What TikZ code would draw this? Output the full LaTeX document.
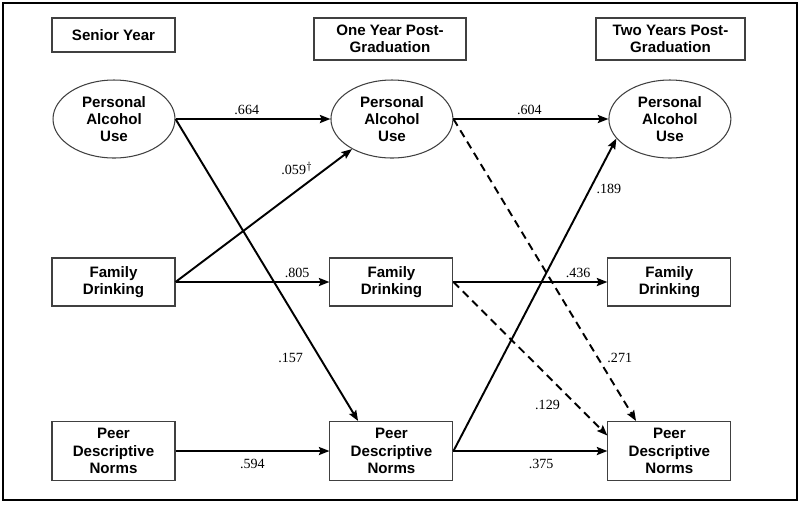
\documentclass[tikz,border=0pt]{standalone}
\usepackage{fontspec}
\setmainfont{Liberation Serif}
\setsansfont{Liberation Sans}
\usepackage{tikz}
\usetikzlibrary{shapes.geometric, arrows.meta, positioning, calc}

\begin{document}
\begin{tikzpicture}[x=0.02cm, y=-0.02cm, node distance=5.56cm, auto]
    \tikzstyle{varbox} = [rectangle, draw=black!75, line width=0.6pt, align=center, font=\sffamily\bfseries\fontsize{8.6}{9.8}\selectfont, minimum width=2.46cm, inner sep=1pt]
    \tikzstyle{latent} = [ellipse, draw=black!75, line width=0.6pt, align=center, font=\sffamily\bfseries\fontsize{8.6}{9.8}\selectfont, minimum width=2.44cm, minimum height=1.56cm, inner sep=0pt]
    \tikzstyle{wave} = [varbox, minimum height=0.84cm]
    \tikzstyle{arrow} = [line width=1.1pt,->,>={Stealth[length=6pt,width=4.6pt,inset=1pt]}]
    \tikzstyle{dasharrow} = [arrow, dash pattern=on 4.5pt off 3pt]
    \tikzstyle{coef} = [font=\fontsize{8}{9}\selectfont, inner sep=2pt]

    \useasboundingbox (0,0) rectangle (800,505);
    \draw[line width=1.2pt] (3,3) rectangle (797,500);

    \node[wave, minimum height=0.68cm] (head1) at (113.5,35) {Senior Year};
    \node[wave, minimum width=3.04cm] (head2) at (390,39) {One Year Post-\\Graduation};
    \node[wave, minimum width=2.98cm] (head3) at (670.5,39) {Two Years Post-\\Graduation};

    \node[latent] (pau1) at (114,119) {Personal\\Alcohol\\Use};
    \node[latent, right of=pau1] (pau2) {Personal\\Alcohol\\Use};
    \node[latent, right of=pau2] (pau3) {Personal\\Alcohol\\Use};

    \node[varbox, minimum height=0.96cm] (fd1) at (113.5,282) {Family\\Drinking};
    \node[varbox, minimum height=0.96cm, right of=fd1] (fd2) {Family\\Drinking};
    \node[varbox, minimum height=0.96cm, right of=fd2] (fd3) {Family\\Drinking};

    \node[varbox, minimum height=1.18cm] (pdn1) at (113.5,451) {Peer\\Descriptive\\Norms};
    \node[varbox, minimum height=1.18cm, right of=pdn1] (pdn2) {Peer\\Descriptive\\Norms};
    \node[varbox, minimum height=1.18cm, right of=pdn2] (pdn3) {Peer\\Descriptive\\Norms};

    \draw[arrow] (pau1.east) -- node[coef, pos=0.46, above] {.664} (pau2.west);
    \draw[arrow] (pau1.east) -- node[coef, pos=0.79, left=7pt] {.157} (pdn2.138.6);
    \draw[arrow] (fd1.east) -- node[coef, pos=0.79, above left=-2pt] {.059$^{\dagger}$} (pau2);
    \draw[arrow] (fd1.east) -- node[coef, pos=0.79, above] {.805} (fd2.west);
    \draw[arrow] (pdn1.east) -- node[coef, pos=0.5, below=2pt] {.594} (pdn2.west);

    \draw[arrow] (pau2.east) -- node[coef, pos=0.49, above] {.604} (pau3.west);
    \draw[dasharrow] (pau2.east) -- node[coef, pos=0.79, right=3pt] {.271} (pdn3.138.6);
    \draw[arrow] (fd2.east) -- node[coef, pos=0.81, above] {.436} (fd3.west);
    \draw[dasharrow] (fd2.east) -- node[coef, pos=0.8, left=7pt] {.129} (pdn3.166.7);
    \draw[arrow] (pdn2.east) -- node[coef, pos=0.84, right=1pt] {.189} (pau3.200);
    \draw[arrow] (pdn2.east) -- node[coef, pos=0.57, below=2pt] {.375} (pdn3.west);
\end{tikzpicture}
\end{document}
